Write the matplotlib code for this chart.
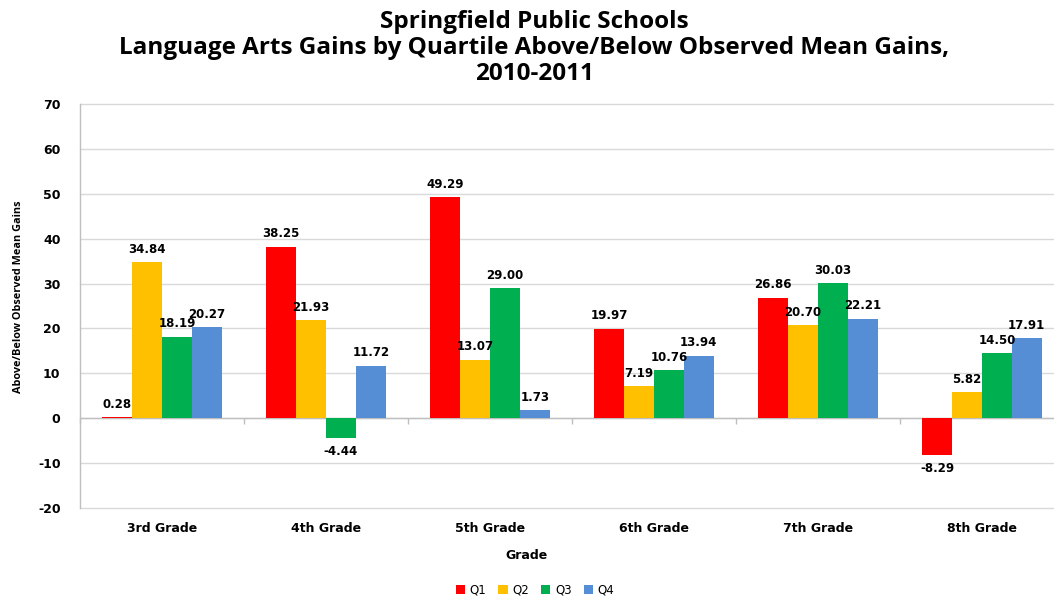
import matplotlib
matplotlib.use("Agg")
import matplotlib.pyplot as plt
import numpy as np

categories = ["3rd Grade", "4th Grade", "5th Grade", "6th Grade", "7th Grade", "8th Grade"]
series_names = ["Q1", "Q2", "Q3", "Q4"]
q1 = [0.28, 38.25, 49.29, 19.97, 26.86, -8.29]
q2 = [34.84, 21.93, 13.07, 7.19, 20.70, 5.82]
q3 = [18.19, -4.44, 29.00, 10.76, 30.03, 14.50]
q4 = [20.27, 11.72, 1.73, 13.94, 22.21, 17.91]
colors = ["#FF0000", "#FFC000", "#00B050", "#558ED5"]
yticks = [-20, -10, 0, 10, 20, 30, 40, 50, 60, 70]

title = "Springfield Public Schools\nLanguage Arts Gains by Quartile Above/Below Observed Mean Gains,\n2010-2011"

fig = plt.figure(figsize=(10.54, 5.97), dpi=100)
W, H = 1054, 597
left, right, top, bottom = 80, 1064, 104, 508
ax = fig.add_axes([left / W, 1 - bottom / H, (right - left) / W, (bottom - top) / H])

x = np.arange(len(categories))
bw = 0.182
data = [q1, q2, q3, q4]
for i, (vals, c, name) in enumerate(zip(data, colors, series_names)):
    pos = x + (i - 1.5) * bw
    ax.bar(pos, vals, width=bw, color=c, label=name, zorder=3)
    for p, v in zip(pos, vals):
        if v >= 0:
            ax.annotate(f"{v:.2f}", (p, v), xytext=(0, 4.5), textcoords="offset points",
                        ha="center", va="bottom", fontsize=8.5, fontweight="bold",
                        family="DejaVu Sans", zorder=4)
        else:
            ax.annotate(f"{v:.2f}", (p, v), xytext=(0, -5), textcoords="offset points",
                        ha="center", va="top", fontsize=8.5, fontweight="bold",
                        family="DejaVu Sans", zorder=4)

ax.set_xlim(-0.5, len(categories) - 0.5)
ax.set_ylim(-20, 70)
ax.set_yticks(yticks)
ax.set_yticklabels([str(t) for t in yticks], fontsize=9, fontweight="bold", family="DejaVu Sans")
ax.set_axisbelow(True)
ax.tick_params(axis="y", length=0, pad=14)
ax.set_xticks(x)
ax.set_xticklabels(categories, fontsize=9, fontweight="bold", family="DejaVu Sans")
ax.tick_params(axis="x", length=0, pad=10)

for t in yticks:
    ax.axhline(t, color="#D9D9D9", linewidth=1.0, zorder=0, clip_on=False)

for s in ["top", "right", "bottom"]:
    ax.spines[s].set_visible(False)
ax.spines["left"].set_color("#BFBFBF")
ax.spines["left"].set_linewidth(1.0)

ax.axhline(0, color="#BFBFBF", linewidth=1.0, zorder=2)
bounds = np.arange(len(categories) + 1) - 0.5
ax.plot(bounds, np.zeros_like(bounds), linestyle="none", marker=3, markersize=4,
        color="#BFBFBF", markeredgewidth=1.0, zorder=2, clip_on=False)

ax.set_xlabel("Grade", fontsize=9, fontweight="bold", family="DejaVu Sans")
ax.xaxis.set_label_coords((527 - left) / (right - left), -(549 - bottom) / (bottom - top))

fig.text(19 / W, 1 - 297 / H, "Above/Below Observed Mean Gains", rotation=90,
         ha="center", va="center", fontsize=7.8, fontweight="bold", family="Open Sans")

fig.text(534 / W, 1 - 48 / H, title, ha="center", va="center", fontsize=17.5,
         fontweight="bold", family="Open Sans", linespacing=1.13)

leg = fig.legend(loc="center", bbox_to_anchor=(535 / W, 1 - 590 / H), ncol=4, frameon=False,
                 fontsize=8.5, handlelength=0.8, handleheight=0.8, handletextpad=0.4,
                 columnspacing=1.0)

fig.savefig("out.png", dpi=100)
